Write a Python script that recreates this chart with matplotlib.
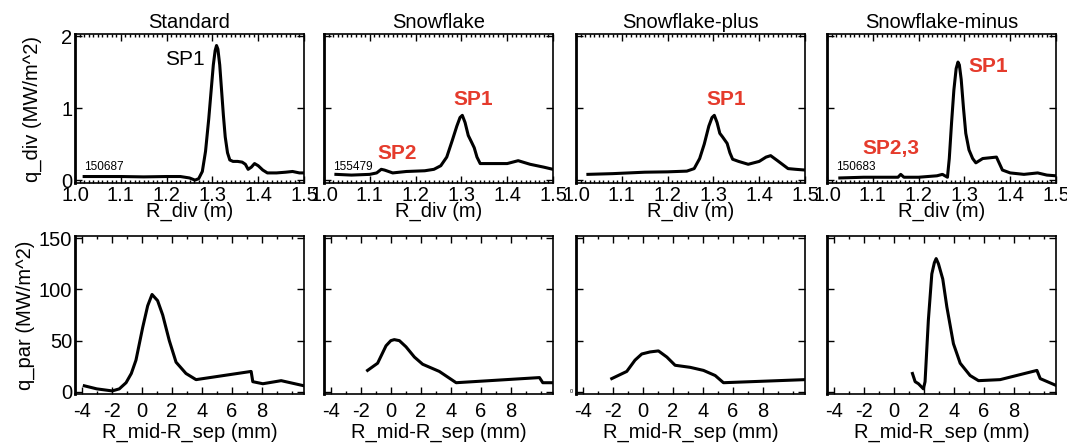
import numpy as np
import matplotlib.pyplot as plt
from matplotlib.ticker import MultipleLocator

plt.rcParams['font.family'] = ['Liberation Sans', 'DejaVu Sans']
plt.rcParams['axes.unicode_minus'] = False

titles = ['Standard', 'Snowflake', 'Snowflake-plus', 'Snowflake-minus']
shots = ['150687', '155479', '', '150683']

# divertor heat flux profiles, q_div (MW/m^2) vs R_div (m)
r_std = [1.02, 1.05, 1.10, 1.15, 1.20, 1.23, 1.25, 1.262, 1.27, 1.278, 1.285, 1.292,
         1.298, 1.302, 1.306, 1.309, 1.312, 1.316, 1.320, 1.324, 1.328, 1.333, 1.338,
         1.345, 1.355, 1.365, 1.372, 1.378, 1.385, 1.392, 1.400, 1.410, 1.420, 1.440,
         1.460, 1.475, 1.490, 1.50]
q_std = [0.05, 0.05, 0.05, 0.045, 0.05, 0.05, 0.03, 0.0, 0.02, 0.12, 0.4, 0.85,
         1.3, 1.6, 1.8, 1.87, 1.82, 1.6, 1.25, 0.9, 0.6, 0.38, 0.28,
         0.26, 0.26, 0.25, 0.22, 0.15, 0.18, 0.23, 0.2, 0.14, 0.1, 0.1,
         0.11, 0.12, 0.1, 0.1]

r_sf = [1.026, 1.06, 1.10, 1.115, 1.125, 1.132, 1.15, 1.18, 1.22, 1.24, 1.255, 1.268,
        1.28, 1.29, 1.297, 1.302, 1.308, 1.315, 1.322, 1.328, 1.334, 1.341, 1.37,
        1.40, 1.424, 1.45, 1.48, 1.50]
q_sf = [0.08, 0.07, 0.08, 0.1, 0.15, 0.14, 0.1, 0.12, 0.13, 0.15, 0.2, 0.32,
        0.55, 0.75, 0.87, 0.9, 0.8, 0.62, 0.53, 0.45, 0.32, 0.23, 0.23,
        0.23, 0.27, 0.22, 0.18, 0.15]

r_sfp = [1.026, 1.08, 1.15, 1.20, 1.242, 1.258, 1.27, 1.28, 1.29, 1.297, 1.302, 1.308,
         1.314, 1.32, 1.33, 1.336, 1.342, 1.355, 1.376, 1.40, 1.415, 1.425, 1.44,
         1.463, 1.48, 1.50]
q_sfp = [0.08, 0.09, 0.11, 0.115, 0.125, 0.16, 0.3, 0.5, 0.75, 0.87, 0.9, 0.8,
         0.65, 0.6, 0.51, 0.38, 0.29, 0.26, 0.22, 0.26, 0.32, 0.34, 0.27,
         0.16, 0.15, 0.14]

r_sfm = [1.028, 1.08, 1.14, 1.155, 1.161, 1.168, 1.20, 1.24, 1.252, 1.263, 1.267, 1.272,
         1.277, 1.282, 1.286, 1.289, 1.293, 1.298, 1.303, 1.310, 1.318, 1.325, 1.34,
         1.37, 1.383, 1.40, 1.43, 1.46, 1.48, 1.50]
q_sfm = [0.03, 0.04, 0.04, 0.04, 0.08, 0.04, 0.04, 0.06, 0.08, 0.04, 0.3, 0.8,
         1.25, 1.55, 1.64, 1.6, 1.4, 1.0, 0.65, 0.42, 0.3, 0.24, 0.3,
         0.32, 0.14, 0.1, 0.08, 0.1, 0.07, 0.06]

# upstream parallel heat flux, q_par (MW/m^2) vs R_mid-R_sep (mm)
x_std = [-3.83, -3.0, -1.97, -1.5, -1.05, -0.7, -0.39, 0.06, 0.39, 0.68, 1.05, 1.39,
         1.83, 2.28, 2.94, 3.61, 7.28, 7.39, 8.06, 9.28, 10.8]
p_std = [6, 3, 1, 3, 9, 18, 31, 63, 84, 95, 89, 75, 50, 29, 18, 12, 20, 10, 8, 11, 6]

x_sf = [-1.55, -0.88, -0.32, 0.0, 0.23, 0.57, 1.01, 1.57, 2.12, 3.23, 4.35, 9.9,
        10.12, 10.75]
p_sf = [21, 28, 45, 50, 51, 50, 44, 34, 27, 20, 9, 14, 9, 9]

x_sfp = [-2.07, -1.07, -0.52, -0.07, 0.48, 1.04, 1.6, 2.15, 3.15, 4.04, 4.82, 5.37, 10.8]
p_sfp = [13, 20, 31, 37, 39, 40, 34, 26, 24, 21, 16, 9, 12]

x_sfm = [1.24, 1.42, 1.64, 1.97, 2.08, 2.3, 2.53, 2.7, 2.82, 2.97, 3.26, 3.53, 3.97,
         4.42, 5.08, 5.64, 7.08, 9.53, 9.75, 10.86]
p_sfm = [18, 10, 8, 3, 10, 70, 115, 126, 130, 125, 110, 83, 47, 28, 16, 11, 12, 21,
         13, 6]

div_r = [r_std, r_sf, r_sfp, r_sfm]
div_q = [q_std, q_sf, q_sfp, q_sfm]
mid_x = [x_std, x_sf, x_sfp, x_sfm]
mid_q = [p_std, p_sf, p_sfp, p_sfm]

red = '#e53b2c'
W, H = 1067, 445
fig = plt.figure(figsize=(W / 100, H / 100), dpi=100)
lefts = [75, 324, 576, 827]
fs = 14.5


def style(ax):
    ax.tick_params(which='both', direction='in', top=True, right=True, labelsize=fs,
                   pad=2)
    ax.tick_params(which='major', length=5, width=1)
    ax.tick_params(which='minor', length=2, width=1)
    for s in ax.spines.values():
        s.set_linewidth(1.2)
    ax.spines['left'].set_linewidth(2)


for i in range(4):
    ax = fig.add_axes([lefts[i] / W, 1 - 183 / H, 229 / W, 149 / H])
    ax.plot(div_r[i], div_q[i], color='k', lw=2.2)
    ax.set_xlim(1.0, 1.5)
    ax.set_ylim(-0.04, 2.03)
    ax.xaxis.set_major_locator(MultipleLocator(0.1))
    ax.xaxis.set_minor_locator(MultipleLocator(0.01))
    ax.set_yticks([0, 1, 2])
    ax.xaxis.set_major_formatter(plt.FuncFormatter(lambda v, p: f'{v:.1f}'))
    style(ax)
    ax.set_title(titles[i], fontsize=fs, pad=4)
    ax.set_xlabel('R_div (m)', fontsize=fs, labelpad=-2)
    if i == 0:
        ax.set_ylabel('q_div (MW/m^2)', fontsize=fs, labelpad=14)
    else:
        ax.set_yticklabels([])
    if shots[i]:
        ax.text(1.02, 0.1, shots[i], fontsize=8.5, va='bottom', ha='left')

    ax2 = fig.add_axes([lefts[i] / W, 1 - 394 / H, 229 / W, 158 / H])
    ax2.plot(mid_x[i], mid_q[i], color='k', lw=2.2)
    ax2.set_xlim(-4.45, 10.8)
    ax2.set_ylim(-2, 152)
    ax2.set_xticks([-4, -2, 0, 2, 4, 6, 8])
    ax2.xaxis.set_minor_locator(MultipleLocator(1))
    ax2.set_yticks([0, 50, 100, 150])
    style(ax2)
    ax2.tick_params(axis='x', pad=6)
    ax2.set_xlabel('R_mid-R_sep (mm)', fontsize=fs, labelpad=1)
    if i == 0:
        ax2.set_ylabel('q_par (MW/m^2)', fontsize=fs, labelpad=3)
    else:
        ax2.set_yticklabels([])
    if i == 2:
        ax2.text(-0.015, 0, '0', transform=ax2.get_yaxis_transform(), fontsize=4,
                 ha='right', va='center')

    kw = dict(fontsize=15, ha='center', va='center')
    bold = dict(kw, color=red, fontweight='bold')
    if i == 0:
        ax.text(1.24, 1.67, 'SP1', **kw)
    elif i == 1:
        ax.text(1.16, 0.37, 'SP2', **bold)
        ax.text(1.325, 1.12, 'SP1', **bold)
    elif i == 2:
        ax.text(1.327, 1.12, 'SP1', **bold)
    else:
        ax.text(1.139, 0.44, 'SP2,3', **bold)
        ax.text(1.352, 1.58, 'SP1', **bold)

fig.savefig('out.png', dpi=100)
